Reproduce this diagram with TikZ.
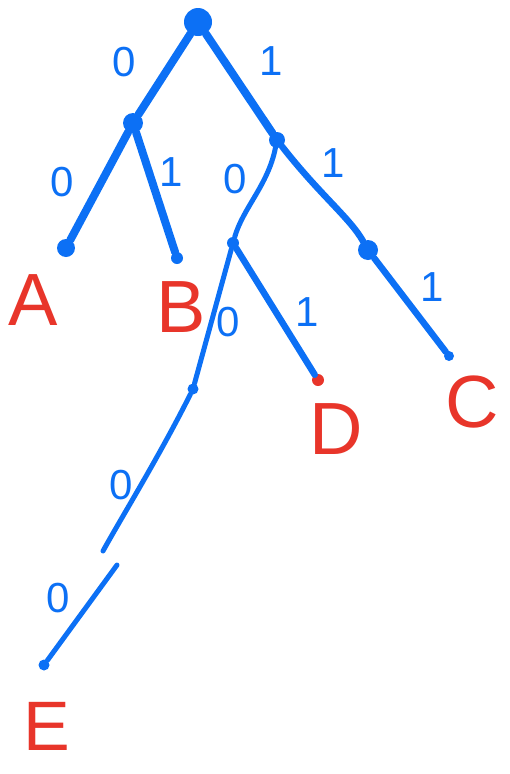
\documentclass[tikz,border=0pt]{standalone}
\usepackage{fontspec}
\setmainfont{Liberation Sans}
\definecolor{pen}{RGB}{12,112,245}
\definecolor{ink}{RGB}{232,53,42}
\begin{document}
\begin{tikzpicture}[x=1pt,y=-1pt,
  edge/.style={draw=pen,line width=8pt,line cap=round},
  mid/.style={draw=pen,line width=6.5pt,line cap=round},
  thin/.style={draw=pen,line width=5pt,line cap=round},
  dot/.style={circle,fill=pen,inner sep=0pt,minimum size=#1},
  bit/.style={text=pen,inner sep=1pt,font=\fontsize{42}{42}\selectfont},
  leaf/.style={text=ink,inner sep=1pt,font=\fontsize{74}{74}\selectfont}]
\useasboundingbox (0,0) rectangle (509,774);
\node[dot=28pt] (r) at (198,22) {};
\node[dot=20pt] (n0) at (133,123) {};
\node[dot=16pt] (n1) at (277,140) {};
\node[dot=18pt] (a) at (66,248) {};
\node[dot=12pt] (b) at (177,258) {};
\node[dot=12pt] (n10) at (233,243) {};
\node[dot=20pt] (n11) at (368,250) {};
\node[dot=10pt] (c) at (449,356) {};
\node[dot=12pt,fill=ink] (d) at (318,380) {};
\node[dot=11pt] (n100) at (193,389) {};
\coordinate (m1) at (103,551);
\coordinate (m2) at (117,565);
\node[dot=11pt] (e) at (44,665) {};
% edges
\draw[edge] (r) -- (n0);
\draw[edge] (r) -- (n1);
\draw[edge] (n0) -- (a);
\draw[edge] (n0) -- (b);
\draw[thin] (n1) .. controls (268,185) and (243,208) .. (n10);
\draw[mid] (n1) .. controls (320,195) and (350,218) .. (n11);
\draw[mid] (n11) -- (c);
\draw[mid] (n10) -- (d);
\draw[thin] (n10) -- (n100);
\draw[thin] (n100) .. controls (160,455) and (120,520) .. (m1);
\draw[thin] (m2) -- (e);
% bit labels
\node[bit] (l1) at (124,62) {0};
\node[bit] (l2) at (271,61) {1};
\node[bit] (l3) at (62,182) {0};
\node[bit] (l4) at (171,172) {1};
\node[bit] (l5) at (235,179) {0};
\node[bit] (l6) at (333,163) {1};
\node[bit] (l7) at (432,287) {1};
\node[bit] (l8) at (228,322) {0};
\node[bit] (l9) at (307,312) {1};
\node[bit] (l10) at (121,485) {0};
\node[bit] (l11) at (58,598) {0};
% leaf labels
\node[leaf] (la) at (33,300) {A};
\node[leaf] (lb) at (181,307) {B};
\node[leaf] (lc) at (472,402) {C};
\node[leaf] (ld) at (336,429) {D};
\node[leaf,font=\fontsize{70}{70}\selectfont] (le) at (47,726) {E};
\end{tikzpicture}
\end{document}
